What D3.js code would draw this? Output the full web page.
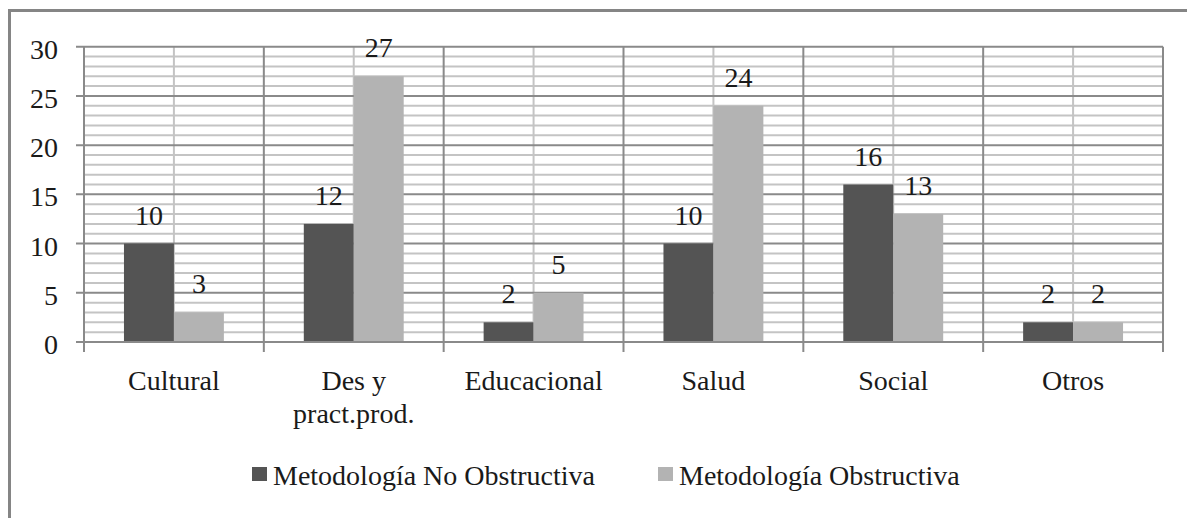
<!DOCTYPE html>
<html>
<head>
<meta charset="utf-8">
<script src="https://cdn.jsdelivr.net/npm/d3@7/dist/d3.min.js"></script>
<style>
  html, body { margin: 0; padding: 0; background: #ffffff; }
  svg { display: block; }
  text { font-family: "Liberation Serif", "Times New Roman", serif; fill: #1a1a1a; }
</style>
</head>
<body>
<svg id="chart" width="1187" height="518"></svg>
<script>
const categories = ["Cultural", "Des y\npract.prod.", "Educacional", "Salud", "Social", "Otros"];
const seriesNames = ["Metodología No Obstructiva", "Metodología Obstructiva"];
const noObstructiva = [10, 12, 2, 10, 16, 2];
const obstructiva = [3, 27, 5, 24, 13, 2];
const yTicks = [0, 5, 10, 15, 20, 25, 30];
const colors = ["#545454", "#b3b3b3"];

const svg = d3.select("#chart");
const W = 1187, H = 518;
const plot = { left: 84, right: 1163, top: 46.7, bottom: 342 };

svg.append("rect").attr("x", 0).attr("y", 0).attr("width", W).attr("height", H).attr("fill", "#fff");
// outer frame
svg.append("rect").attr("x", 9.5).attr("y", 10.5).attr("width", 1200).attr("height", 540)
  .attr("fill", "none").attr("stroke", "#858585").attr("stroke-width", 3);

const y = d3.scaleLinear().domain([0, 30]).range([plot.bottom, plot.top]);
const x0 = d3.scaleBand().domain(categories).range([plot.left, plot.right]).padding(0);
const x1 = d3.scaleBand().domain(seriesNames).range([0, x0.bandwidth()]).paddingInner(0).paddingOuter(0.8);

const grid = svg.append("g");
// minor horizontal gridlines
grid.selectAll("line.minor").data(d3.range(1, 30).filter(v => v % 5 !== 0)).join("line")
  .attr("x1", plot.left).attr("x2", plot.right)
  .attr("y1", d => y(d)).attr("y2", d => y(d))
  .attr("stroke", "#c4c4c4").attr("stroke-width", 2);
// vertical light lines at category centres
grid.selectAll("line.vc").data(categories).join("line")
  .attr("x1", d => x0(d) + x0.bandwidth() / 2).attr("x2", d => x0(d) + x0.bandwidth() / 2)
  .attr("y1", plot.top).attr("y2", plot.bottom)
  .attr("stroke", "#c4c4c4").attr("stroke-width", 2);
// major horizontal lines (with tick extension)
grid.selectAll("line.major").data(yTicks.filter(v => v > 0)).join("line")
  .attr("x1", plot.left - 8).attr("x2", plot.right)
  .attr("y1", d => y(d)).attr("y2", d => y(d))
  .attr("stroke", "#8a8a8a").attr("stroke-width", 2);
// vertical boundary lines with ticks below axis
const bounds = categories.map(c => x0(c)).concat([plot.right]);
grid.selectAll("line.vb").data(bounds).join("line")
  .attr("x1", d => d).attr("x2", d => d)
  .attr("y1", plot.top).attr("y2", plot.bottom + 10)
  .attr("stroke", "#8a8a8a").attr("stroke-width", 2);

// bars
const rows = categories.map((c, i) => ({ cat: c, vals: [noObstructiva[i], obstructiva[i]] }));
const bg = svg.append("g");
rows.forEach(r => {
  r.vals.forEach((v, j) => {
    const s = seriesNames[j];
    bg.append("rect")
      .attr("x", x0(r.cat) + x1(s)).attr("width", x1.bandwidth())
      .attr("y", y(v)).attr("height", y(0) - y(v))
      .attr("fill", colors[j]);
    bg.append("text")
      .attr("x", x0(r.cat) + x1(s) + x1.bandwidth() / 2)
      .attr("y", y(v) - 19)
      .attr("text-anchor", "middle").attr("font-size", 28)
      .text(v);
  });
});

// x axis baseline
svg.append("line").attr("x1", plot.left - 8).attr("x2", plot.right)
  .attr("y1", y(0)).attr("y2", y(0)).attr("stroke", "#8a8a8a").attr("stroke-width", 2);

// y tick labels
svg.append("g").selectAll("text").data(yTicks).join("text")
  .attr("x", 58).attr("y", d => y(d) + 12)
  .attr("text-anchor", "end").attr("font-size", 28)
  .text(d => d);

// category labels
const catG = svg.append("g");
categories.forEach(c => {
  const t = catG.append("text")
    .attr("x", x0(c) + x0.bandwidth() / 2).attr("y", 390)
    .attr("text-anchor", "middle").attr("font-size", 28);
  c.split("\n").forEach((line, k) => {
    t.append("tspan").attr("x", x0(c) + x0.bandwidth() / 2).attr("dy", k === 0 ? 0 : 33).text(line);
  });
});

// legend
const legendX = [252, 658];
const lg = svg.append("g");
seriesNames.forEach((s, j) => {
  lg.append("rect").attr("x", legendX[j]).attr("y", 467).attr("width", 15).attr("height", 14).attr("fill", colors[j]);
  lg.append("text").attr("x", legendX[j] + 21).attr("y", 485).attr("font-size", 28).text(s);
});
</script>
</body>
</html>
